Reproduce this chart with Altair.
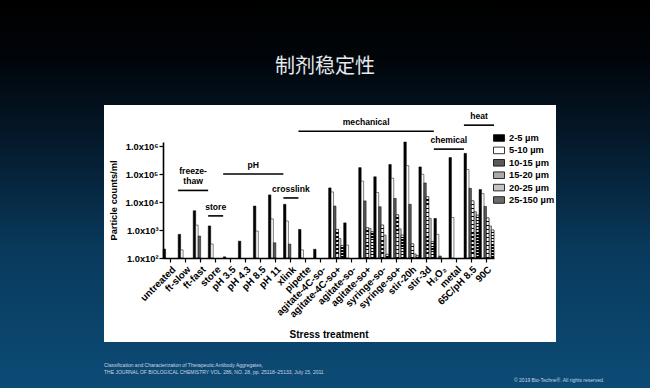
import math
import altair as alt

# ---------------- data ----------------
categories = ["untreated", "ft-slow", "ft-fast", "store", "pH 3.5", "pH 4.3", "pH 8.5",
              "pH 11", "xlink", "pipette", "agitate-4C-so-", "agitate-4C-so+",
              "agitate-so-", "agitate-so+", "syringe-so-", "syringe-so+", "stir-20h",
              "stir-3d", "H₂O₂", "metal", "65C/pH 8.5", "90C"]
sizes = ["2-5 µm", "5-10 µm", "10-15 µm", "15-20 µm", "20-25 µm", "25-150 µm"]

counts_2_5 = [210, 700, 4900, 1400, 110, 400, 7200, 18000, 8300, 1050, 205, 32000,
              1800, 170000, 80000, 220000, 1400000, 180000, 2600, 390000, 550000, 28000]
counts_5_10 = [None, 195, 1500, 315, None, None, 920, 2500, 2100, 195, None, 23000,
               290, 56000, 22000, 71000, 200000, 98000, 700, 2800, 145000, 20000]
counts_10_15 = [None, None, 610, None, None, None, None, 350, 315, None, None, 7200,
                None, 11000, 6800, 13500, 8300, 48000, 118, None, 31000, 7000]
counts_15_20 = [None, None, None, None, None, None, None, None, None, None, None, 1050,
                None, 1200, 1500, 3500, 320, 15500, None, None, 11000, 2700]
counts_20_25 = [None, None, None, None, None, None, None, None, None, None, None, 500,
                None, 1150, 660, 1100, 140, 2600, None, None, 4500, 1400]
counts_25_150 = [None, None, None, None, None, None, None, None, None, None, None, 280,
                 None, 870, 135, 660, 120, 390, None, None, 3400, 1000]
series_counts = [counts_2_5, counts_5_10, counts_10_15, counts_15_20, counts_20_25, counts_25_150]

group_names = [["freeze-", "thaw"], ["store"], ["pH"], ["crosslink"], ["mechanical"], ["chemical"], ["heat"]]
group_first = ["ft-slow", "store", "pH 3.5", "xlink", "pipette", "H₂O₂", "65C/pH 8.5"]
group_last = ["ft-fast", "store", "pH 11", "xlink", "stir-3d", "metal", "90C"]
group_level = [2.6e4, 3.2e3, 1.0e5, 1.4e4, 3.4e6, 7.8e5, 5.6e6]

y_ticks = [1e2, 1e3, 1e4, 1e5, 1e6]
slide_title = "制剂稳定性"
ref_line1 = "Classification and Characterization of Therapeutic Antibody Aggregates,"
ref_line2 = "THE JOURNAL OF BIOLOGICAL CHEMISTRY VOL. 286, NO. 28, pp. 25118–25133, July 15, 2011"
copyright_text = "© 2019 Bio-Techne®. All rights reserved."

# ---------------- layout / style ----------------
W, H = 331, 116
LEFT, TOP = 163, 142
CW, CH = 650, 388
Y_MIN, Y_MAX = 100, 1.4e6
FONT = "Liberation Sans"
LINE_H = 10.5
size_fills = ["#000000", "#ffffff", "#5a5a5a", "#a9a9a9", "#c4c4c4", "#6a6a6a"]


def stripes(v, period, dark_frac):
    h = (math.log10(v) - math.log10(Y_MIN)) / (math.log10(Y_MAX) - math.log10(Y_MIN)) * H
    n = max(1, round(h / period))
    stops = []
    for k in range(n):
        a = k / n
        b = (k + 1 - dark_frac) / n
        c = (k + 1) / n
        stops += [{"offset": a, "color": "#ffffff"}, {"offset": b, "color": "#ffffff"},
                  {"offset": b, "color": "#000000"}, {"offset": c, "color": "#000000"}]
    return {"gradient": "linear", "x1": 0, "y1": 0, "x2": 0, "y2": 1, "stops": stops}


bar_rows, pattern_rows = [], []
for s, vals in zip(sizes, series_counts):
    for c, v in zip(categories, vals):
        if v is None:
            continue
        bar_rows.append({"category": c, "size": s, "count": v})
        if s == "15-20 µm":
            pattern_rows.append({"category": c, "size": s, "count": v, "grad": stripes(v, 4.0, 0.35)})
        elif s == "25-150 µm":
            pattern_rows.append({"category": c, "size": s, "count": v, "grad": stripes(v, 3.0, 0.5)})

group_rows = []
for name, a, b, lvl in zip(group_names, group_first, group_last, group_level):
    i0, i1 = categories.index(a), categories.index(b) + 1
    group_rows.append({"name": name, "nlines": len(name), "x0": i0, "x1": i1,
                       "xm": (i0 + i1) / 2, "level": lvl})

one = alt.Data(values=[{}])

# ---------------- scales / axes ----------------
xscale = alt.Scale(domain=categories, paddingInner=0, paddingOuter=0)
offscale = alt.Scale(domain=sizes, paddingInner=0, paddingOuter=0.05)
yscale = alt.Scale(type="log", domain=[Y_MIN, Y_MAX], nice=False)

xaxis = alt.Axis(title="Stress treatment", labelAngle=315, labelAlign="right",
                 labelBaseline="top", labelPadding=2, labelFont=FONT, labelFontSize=9.8,
                 labelFontWeight="bold", labelColor="black", tickColor="black", tickSize=4,
                 tickWidth=1.2, domainColor="black", domainWidth=1.6, titleFont=FONT,
                 titleFontSize=10, titleFontWeight="bold", titleColor="black", titleY=71,
                 labelOverlap=False, grid=False, zindex=1)
yaxis = alt.Axis(title="Particle counts/ml", values=y_ticks,
                 labelExpr="'1.0x10' + ['⁰','¹','²','³','⁴','⁵','⁶'][round(log(datum.value)/LN10)]",
                 labelFont=FONT, labelFontSize=9.3, labelFontWeight="bold", labelColor="black",
                 labelPadding=1, tickColor="black", tickSize=4, tickWidth=1.2,
                 domainColor="black", domainWidth=1.6, titleFont=FONT, titleFontSize=9.3,
                 titleFontWeight="bold", titleColor="black", titlePadding=6, grid=False,
                 zindex=1)

legend = alt.Legend(title=None, orient="none", legendX=330, legendY=-10,
                    symbolType="M-1,-0.6H1V0.6H-1Z", symbolSize=121,
                    symbolStrokeColor="black", symbolStrokeWidth=0.8,
                    labelFont=FONT, labelFontSize=9.3, labelFontWeight="bold",
                    labelColor="black", labelOffset=4, rowPadding=0.4, padding=0, zindex=1)

# ---------------- background ----------------
bg = alt.Chart(one).mark_rect(
    color=alt.LinearGradient(gradient="linear", x1=0, y1=0, x2=0, y2=1, stops=[
        alt.GradientStop(offset=0, color="#000000"),
        alt.GradientStop(offset=0.15, color="#01050a"),
        alt.GradientStop(offset=0.35, color="#041829"),
        alt.GradientStop(offset=0.65, color="#093a5d"),
        alt.GradientStop(offset=1, color="#0c4b76")])
).encode(x=alt.value(-LEFT), x2=alt.value(CW - LEFT), y=alt.value(-TOP), y2=alt.value(CH - TOP))

panel = alt.Chart(one).mark_rect(color="white").encode(
    x=alt.value(104 - LEFT), x2=alt.value(556 - LEFT), y=alt.value(105 - TOP), y2=alt.value(342 - TOP))

title_txt = alt.Chart(one).mark_text(text=slide_title, font="Noto Sans CJK SC", fontSize=20,
                                     color="#e6e9ec", align="center", baseline="middle").encode(
    x=alt.value(325 - LEFT), y=alt.value(67 - TOP))
ref1 = alt.Chart(one).mark_text(text=ref_line1, font=FONT, fontSize=5, color="#c9d6e2",
                                align="left", baseline="middle").encode(
    x=alt.value(104 - LEFT), y=alt.value(365 - TOP))
ref2 = alt.Chart(one).mark_text(text=ref_line2, font=FONT, fontSize=5, color="#c9d6e2",
                                align="left", baseline="middle").encode(
    x=alt.value(104 - LEFT), y=alt.value(372 - TOP))
copy_txt = alt.Chart(one).mark_text(text=copyright_text, font=FONT, fontSize=5, color="#c9d6e2",
                                    align="left", baseline="middle").encode(
    x=alt.value(514 - LEFT), y=alt.value(380 - TOP))

# ---------------- bars ----------------
bars = alt.Chart(alt.Data(values=bar_rows)).mark_bar(stroke="black", strokeWidth=0.5).encode(
    x=alt.X("category:N", scale=xscale, axis=xaxis, sort=categories),
    xOffset=alt.XOffset("size:N", scale=offscale, sort=sizes),
    y=alt.Y("count:Q", scale=yscale, axis=yaxis),
    y2=alt.datum(Y_MIN),
    color=alt.Color("size:N", scale=alt.Scale(domain=sizes, range=size_fills), legend=legend, sort=sizes),
)
patterns = alt.Chart(alt.Data(values=pattern_rows)).mark_bar(stroke="black", strokeWidth=0.5).encode(
    x=alt.X("category:N", scale=xscale, axis=xaxis, sort=categories),
    xOffset=alt.XOffset("size:N", scale=offscale, sort=sizes),
    y=alt.Y("count:Q", scale=yscale, axis=yaxis),
    y2=alt.datum(Y_MIN),
    fill=alt.Fill("grad:N", scale=None, legend=None),
)
bar_layer = alt.layer(bars, patterns)

# ---------------- group annotations ----------------
gx = alt.Scale(domain=[0, len(categories)], nice=False, zero=False)
g_base = alt.Chart(alt.Data(values=group_rows))
g_rule = g_base.mark_rule(color="black", strokeWidth=1.6).encode(
    x=alt.X("x0:Q", scale=gx, axis=None), x2="x1:Q",
    y=alt.Y("level:Q", scale=yscale, axis=yaxis))
g_text1 = g_base.transform_filter("datum.nlines == 1").mark_text(
    font=FONT, fontSize=8.6, fontWeight="bold", color="black", baseline="bottom",
    dy=-4, lineHeight=LINE_H).encode(
    x=alt.X("xm:Q", scale=gx, axis=None),
    y=alt.Y("level:Q", scale=yscale, axis=yaxis),
    text="name:N")
g_text2 = g_base.transform_filter("datum.nlines == 2").mark_text(
    font=FONT, fontSize=8.6, fontWeight="bold", color="black", baseline="bottom",
    dy=-4 - LINE_H, lineHeight=LINE_H).encode(
    x=alt.X("xm:Q", scale=gx, axis=None),
    y=alt.Y("level:Q", scale=yscale, axis=yaxis),
    text="name:N")
group_layer = alt.layer(g_rule, g_text1, g_text2)

chart = alt.layer(bg, panel, title_txt, ref1, ref2, copy_txt, bar_layer, group_layer).resolve_scale(
    x="independent"
).properties(
    width=W, height=H,
    padding={"left": LEFT, "top": TOP, "right": CW - LEFT - W, "bottom": CH - TOP - H},
    autosize=alt.AutoSizeParams(type="none"),
    background="#0c4b76",
).configure_view(stroke=None)

chart.save("out.html", embed_options={"renderer": "svg", "actions": False})
